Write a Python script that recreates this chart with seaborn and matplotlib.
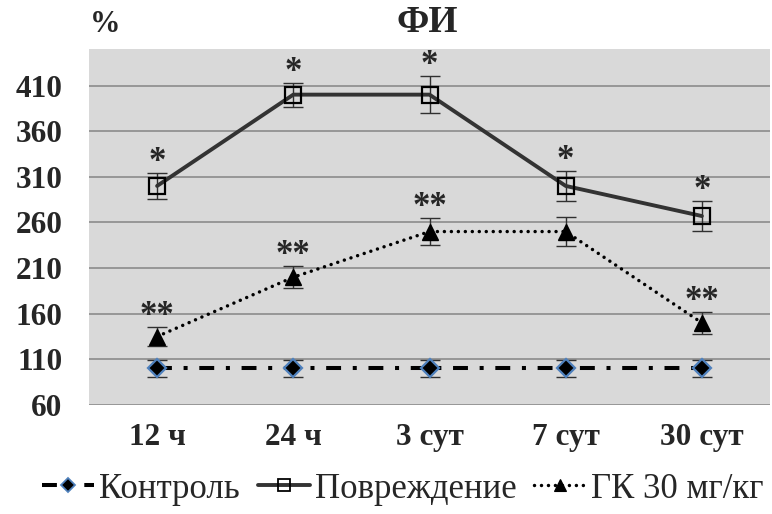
import numpy as np
import pandas as pd
import matplotlib
matplotlib.use("Agg")
import matplotlib.pyplot as plt
import seaborn as sns
from matplotlib.lines import Line2D

# Data
categories = ["12 ч", "24 ч", "3 сут", "7 сут", "30 сут"]
control = [100, 100, 100, 100, 100]
control_err = [9, 9, 9, 9, 9]
injury = [300, 400, 400, 300, 267]
injury_err = [14, 13, 20, 16, 16]
gk30 = [135, 200, 250, 250, 150]
gk30_err = [10, 12, 15, 16, 12]
injury_marks = ["*", "*", "*", "*", "*"]
gk30_marks = ["**", "**", "**", "", "**"]
y_ticks = [60, 110, 160, 210, 260, 310, 360, 410]
series_names = ["Контроль", "Повреждение", "ГК 30 мг/кг"]

sns.set_theme(style="white")
plt.rcParams["font.family"] = ["Liberation Serif", "DejaVu Serif"]

x = np.arange(len(categories))
df = pd.DataFrame({
    "pos": np.concatenate([x, x, x]),
    "value": control + injury + gk30,
    "group": [series_names[0]] * 5 + [series_names[1]] * 5 + [series_names[2]] * 5,
})

fig = plt.figure(figsize=(7.72, 5.14), dpi=100)
ax = fig.add_axes([89 / 772, 1 - 405 / 514, 681 / 772, 356 / 514])
ax.set_facecolor("#d9d9d9")

styles = {
    "Контроль": dict(color="black", lw=2.9, ls=(0, (3.7, 2.9, 1, 2.9)), cap="butt",
                     marker="D", ms=9.5, mfc="black", mec="#4f81bd", mew=1.6, lms=7),
    "Повреждение": dict(color="#333333", lw=2.8, ls="-", cap="butt",
                        marker="s", ms=11, mfc="none", mec="black", mew=1.6, lms=9),
    "ГК 30 мг/кг": dict(color="black", lw=2.5, ls=(0, (0.01, 2.0)), cap="round",
                        marker="^", ms=12, mfc="black", mec="black", mew=1, lms=9),
}
errs = {"Контроль": (control, control_err),
        "Повреждение": (injury, injury_err),
        "ГК 30 мг/кг": (gk30, gk30_err)}

for name in ["Контроль", "ГК 30 мг/кг", "Повреждение"]:
    st = styles[name]
    vals, err = errs[name]
    ax.errorbar(x, vals, yerr=err, fmt="none", ecolor="#303030",
                elinewidth=1.0, capsize=7, capthick=1.0, zorder=2)
    sub = df[df["group"] == name]
    sns.lineplot(data=sub, x="pos", y="value", ax=ax, color=st["color"],
                 linewidth=st["lw"], linestyle=st["ls"], marker=st["marker"],
                 markersize=st["ms"], markerfacecolor=st["mfc"],
                 markeredgecolor=st["mec"], markeredgewidth=st["mew"],
                 dash_capstyle=st["cap"], legend=False, zorder=3)

# significance marks above the error bars
for vals, err, marks in [(injury, injury_err, injury_marks),
                         (gk30, gk30_err, gk30_marks)]:
    for xi, v, e, m in zip(x, vals, err, marks):
        if m:
            ax.annotate(m, (xi, v + e), xytext=(0, 1.5), textcoords="offset points",
                        ha="center", va="baseline", fontsize=25, fontweight="bold")

ax.set_xlim(-0.5, len(categories) - 0.5)
ax.set_ylim(60, 450)
ax.set_yticks(y_ticks)
ax.set_xticks(x)
ax.set_xticklabels(categories)
ax.grid(axis="y", color="#8c8c8c", lw=1.2)
ax.set_axisbelow(True)
for s in ax.spines.values():
    s.set_visible(False)
ax.tick_params(length=0, labelsize=22.5)
ax.tick_params(axis="y", pad=19)
ax.tick_params(axis="x", pad=13)
for lab in ax.get_xticklabels() + ax.get_yticklabels():
    lab.set_fontweight("bold")
ax.set_xlabel("")
ax.set_ylabel("")

fig.text(427 / 772, 1 - 23 / 514, "ФИ", ha="center", va="center",
         fontsize=27, fontweight="bold")
fig.text(105 / 772, 1 - 25 / 514, "%", ha="center", va="center",
         fontsize=22, fontweight="bold")

handles = []
for name in series_names:
    st = styles[name]
    handles.append(Line2D([], [], color=st["color"], lw=st["lw"], ls=st["ls"],
                          marker=st["marker"], ms=st["lms"],
                          mfc=st["mfc"], mec=st["mec"], mew=st["mew"] * 0.8,
                          dash_capstyle=st["cap"]))
fig.legend(handles, series_names,
           loc="center", bbox_to_anchor=(403 / 772, 1 - 489 / 514), ncol=3,
           frameon=False, fontsize=25, handlelength=1.5, handletextpad=0.15,
           columnspacing=0.5)

fig.savefig("out.png", dpi=100)
